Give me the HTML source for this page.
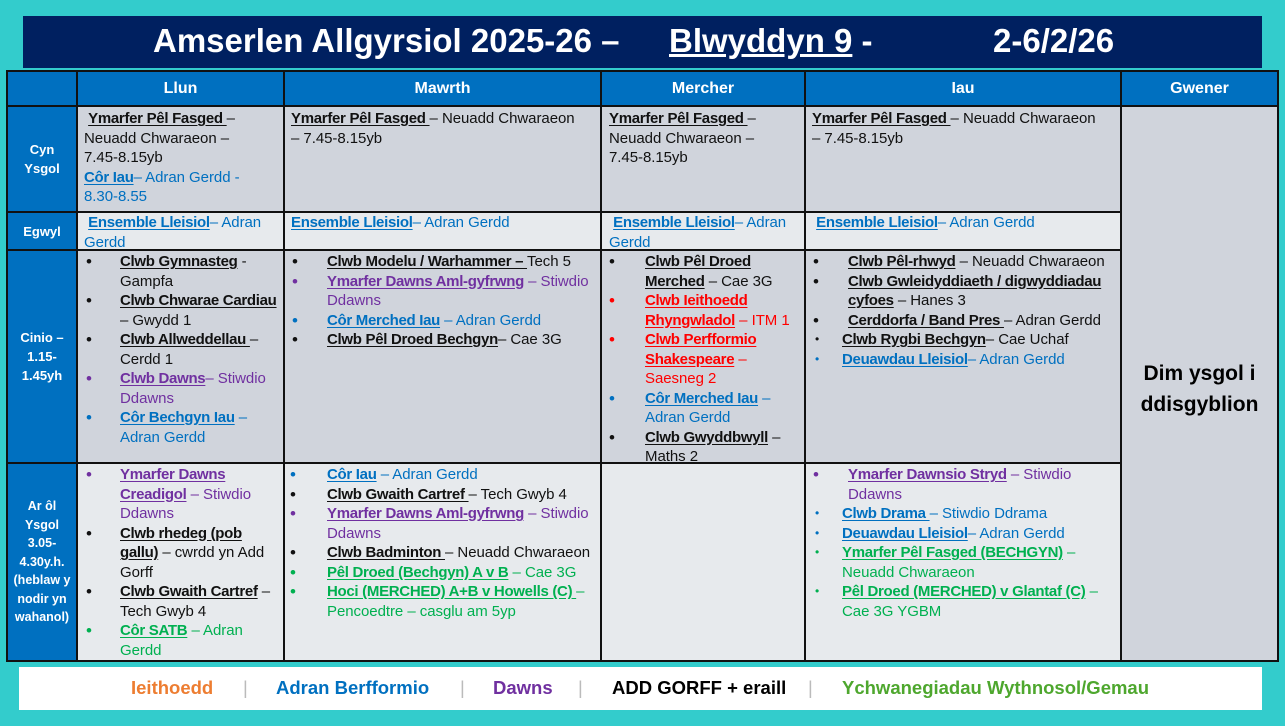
<!DOCTYPE html>
<html><head><meta charset="utf-8"><style>
*{margin:0;padding:0;box-sizing:border-box}
body{width:1285px;height:726px;background:#33CCCC;position:relative;overflow:hidden;font-family:"Liberation Sans",sans-serif}
.a{position:absolute}
.title{left:23px;top:16px;width:1239px;height:52px;background:#002060}
.title span{position:absolute;top:6px;color:#fff;font-weight:bold;font-size:33px;white-space:nowrap}
.bg{position:absolute;background:#111}
.c{position:absolute}
.hd{background:#0070C0;color:#fff;font-weight:bold;font-size:16px;display:flex;align-items:center;justify-content:center;text-align:center}
.lab{background:#0070C0;color:#fff;font-weight:bold;font-size:13px;display:flex;align-items:center;justify-content:center;text-align:center;line-height:19px}
.g1{background:#D0D4DC}.g2{background:#E7EAED}
.t{font-size:15px;line-height:19.5px;white-space:nowrap;letter-spacing:-0.05px;color:#111;position:absolute}
b{font-weight:bold;letter-spacing:-0.3px}
u{text-decoration:underline;text-underline-offset:2px}
.bl{color:#0070C0}.pu{color:#7030A0}.gr{color:#00B050}.rd{color:#FF0000}
.it{position:relative}
.dot{position:absolute;top:0;font-size:17px;line-height:19.5px}
.sm{font-size:12px}
.leg{left:19px;top:667px;width:1243px;height:43px;background:#fff}
.leg span{position:absolute;top:10px;font-weight:bold;font-size:18.5px;white-space:nowrap}
.sep{color:#bbb;font-weight:normal!important}
</style></head><body>
<div class="a title">
<span style="left:130px">Amserlen Allgyrsiol 2025-26 –</span>
<span style="left:646px"><u>Blwyddyn 9</u> -</span>
<span style="left:970px">2-6/2/26</span>
</div>

<div class="bg" style="left:6px;top:70px;width:1273px;height:592px"></div>
<div class="c hd" style="left:8px;top:72px;width:68px;height:33px"></div>
<div class="c hd" style="left:78px;top:72px;width:205px;height:33px">Llun</div>
<div class="c hd" style="left:285px;top:72px;width:315px;height:33px">Mawrth</div>
<div class="c hd" style="left:602px;top:72px;width:202px;height:33px">Mercher</div>
<div class="c hd" style="left:806px;top:72px;width:314px;height:33px">Iau</div>
<div class="c hd" style="left:1122px;top:72px;width:155px;height:33px">Gwener</div>
<div class="c lab" style="left:8px;top:107px;width:68px;height:104px">Cyn<br>Ysgol</div>
<div class="c lab" style="left:8px;top:213px;width:68px;height:36px">Egwyl</div>
<div class="c lab" style="left:8px;top:251px;width:68px;height:211px">Cinio –<br>1.15-<br>1.45yh</div>
<div class="c lab" style="left:8px;top:464px;width:68px;height:196px;font-size:12.5px;line-height:18.5px">Ar ôl<br>Ysgol<br>3.05-<br>4.30y.h.<br>(heblaw y<br>nodir yn<br>wahanol)</div>
<div class="c g1" style="left:78px;top:107px;width:205px;height:104px"></div>
<div class="c g1" style="left:285px;top:107px;width:315px;height:104px"></div>
<div class="c g1" style="left:602px;top:107px;width:202px;height:104px"></div>
<div class="c g1" style="left:806px;top:107px;width:314px;height:104px"></div>
<div class="c g2" style="left:78px;top:213px;width:205px;height:36px"></div>
<div class="c g2" style="left:285px;top:213px;width:315px;height:36px"></div>
<div class="c g2" style="left:602px;top:213px;width:202px;height:36px"></div>
<div class="c g2" style="left:806px;top:213px;width:314px;height:36px"></div>
<div class="c g1" style="left:78px;top:251px;width:205px;height:211px"></div>
<div class="c g1" style="left:285px;top:251px;width:315px;height:211px"></div>
<div class="c g1" style="left:602px;top:251px;width:202px;height:211px"></div>
<div class="c g1" style="left:806px;top:251px;width:314px;height:211px"></div>
<div class="c g2" style="left:78px;top:464px;width:205px;height:196px"></div>
<div class="c g2" style="left:285px;top:464px;width:315px;height:196px"></div>
<div class="c g2" style="left:602px;top:464px;width:202px;height:196px"></div>
<div class="c g2" style="left:806px;top:464px;width:314px;height:196px"></div>
<div class="c g1" style="left:1122px;top:107px;width:155px;height:553px;display:flex;align-items:center;justify-content:center;text-align:center;font-weight:bold;font-size:21px;line-height:31px;color:#000;padding-top:10px">Dim ysgol i<br>ddisgyblion</div>

<div class="t" style="left:84px;top:109px">&nbsp;<b><u>Ymarfer Pêl Fasged </u></b>–<br>Neuadd Chwaraeon –<br>7.45-8.15yb<br><span class="bl"><b><u>Côr Iau</u></b>– Adran Gerdd -<br>8.30-8.55</span></div>
<div class="t" style="left:291px;top:109px"><b><u>Ymarfer Pêl Fasged </u></b>– Neuadd Chwaraeon<br>– 7.45-8.15yb</div>
<div class="t" style="left:609px;top:109px"><b><u>Ymarfer Pêl Fasged </u></b>–<br>Neuadd Chwaraeon –<br>7.45-8.15yb</div>
<div class="t" style="left:812px;top:109px"><b><u>Ymarfer Pêl Fasged </u></b>– Neuadd Chwaraeon<br>– 7.45-8.15yb</div>
<div class="t bl" style="left:84px;top:213px">&nbsp;<b><u>Ensemble Lleisiol</u></b>– Adran<br>Gerdd</div>
<div class="t bl" style="left:291px;top:213px"><b><u>Ensemble Lleisiol</u></b>– Adran Gerdd</div>
<div class="t bl" style="left:609px;top:213px">&nbsp;<b><u>Ensemble Lleisiol</u></b>– Adran<br>Gerdd</div>
<div class="t bl" style="left:812px;top:213px">&nbsp;<b><u>Ensemble Lleisiol</u></b>– Adran Gerdd</div>

<div class="t" style="left:86px;top:252px;width:195px">
<div class="it" style="padding-left:34px"><span class="dot" style="left:0">•</span><b><u>Clwb Gymnasteg</u></b> -<br>Gampfa</div>
<div class="it" style="padding-left:34px"><span class="dot" style="left:0">•</span><b><u>Clwb Chwarae Cardiau</u></b><br>– Gwydd 1</div>
<div class="it" style="padding-left:34px"><span class="dot" style="left:0">•</span><b><u>Clwb Allweddellau </u></b>–<br>Cerdd 1</div>
<div class="it pu" style="padding-left:34px"><span class="dot" style="left:0">•</span><b><u>Clwb Dawns</u></b>– Stiwdio<br>Ddawns</div>
<div class="it bl" style="padding-left:34px"><span class="dot" style="left:0">•</span><b><u>Côr Bechgyn Iau</u></b> –<br>Adran Gerdd</div>
</div>
<div class="t" style="left:292px;top:252px">
<div class="it" style="padding-left:35px"><span class="dot" style="left:0">•</span><b><u>Clwb Modelu / Warhammer – </u></b>Tech 5</div>
<div class="it pu" style="padding-left:35px"><span class="dot" style="left:0">•</span><b><u>Ymarfer Dawns Aml-gyfrwng</u></b> – Stiwdio<br>Ddawns</div>
<div class="it bl" style="padding-left:35px"><span class="dot" style="left:0">•</span><b><u>Côr Merched Iau</u></b> – Adran Gerdd</div>
<div class="it" style="padding-left:35px"><span class="dot" style="left:0">•</span><b><u>Clwb Pêl Droed Bechgyn</u></b>– Cae 3G</div>
</div>
<div class="t" style="left:609px;top:252px">
<div class="it" style="padding-left:36px"><span class="dot" style="left:0">•</span><b><u>Clwb Pêl Droed</u></b><br><b><u>Merched</u></b> – Cae 3G</div>
<div class="it rd" style="padding-left:36px"><span class="dot" style="left:0">•</span><b><u>Clwb Ieithoedd</u></b><br><b><u>Rhyngwladol</u></b> – ITM 1</div>
<div class="it rd" style="padding-left:36px"><span class="dot" style="left:0">•</span><b><u>Clwb Perfformio</u></b><br><b><u>Shakespeare</u></b> –<br>Saesneg 2</div>
<div class="it bl" style="padding-left:36px"><span class="dot" style="left:0">•</span><b><u>Côr Merched Iau</u></b> –<br>Adran Gerdd</div>
<div class="it" style="padding-left:36px"><span class="dot" style="left:0">•</span><b><u>Clwb Gwyddbwyll</u></b> –<br>Maths 2</div>
</div>
<div class="t" style="left:813px;top:252px">
<div class="it" style="padding-left:35px"><span class="dot" style="left:0">•</span><b><u>Clwb Pêl-rhwyd</u></b> – Neuadd Chwaraeon</div>
<div class="it" style="padding-left:35px"><span class="dot" style="left:0">•</span><b><u>Clwb Gwleidyddiaeth / digwyddiadau</u></b><br><b><u>cyfoes</u></b> – Hanes 3</div>
<div class="it" style="padding-left:35px"><span class="dot" style="left:0">•</span><b><u>Cerddorfa / Band Pres </u></b>– Adran Gerdd</div>
<div class="it" style="padding-left:29px"><span class="dot sm" style="left:2px">•</span><b><u>Clwb Rygbi Bechgyn</u></b>– Cae Uchaf</div>
<div class="it bl" style="padding-left:29px"><span class="dot sm" style="left:2px">•</span><b><u>Deuawdau Lleisiol</u></b>– Adran Gerdd</div>
</div>

<div class="t" style="left:86px;top:465px">
<div class="it pu" style="padding-left:34px"><span class="dot" style="left:0">•</span><b><u>Ymarfer Dawns</u></b><br><b><u>Creadigol</u></b> – Stiwdio<br>Ddawns</div>
<div class="it" style="padding-left:34px"><span class="dot" style="left:0">•</span><b><u>Clwb rhedeg (pob</u></b><br><b><u>gallu)</u></b> – cwrdd yn Add<br>Gorff</div>
<div class="it" style="padding-left:34px"><span class="dot" style="left:0">•</span><b><u>Clwb Gwaith Cartref</u></b> –<br>Tech Gwyb 4</div>
<div class="it gr" style="padding-left:34px"><span class="dot" style="left:0">•</span><b><u>Côr SATB</u></b> – Adran<br>Gerdd</div>
</div>
<div class="t" style="left:290px;top:465px">
<div class="it bl" style="padding-left:37px"><span class="dot" style="left:0">•</span><b><u>Côr Iau</u></b> – Adran Gerdd</div>
<div class="it" style="padding-left:37px"><span class="dot" style="left:0">•</span><b><u>Clwb Gwaith Cartref </u></b>– Tech Gwyb 4</div>
<div class="it pu" style="padding-left:37px"><span class="dot" style="left:0">•</span><b><u>Ymarfer Dawns Aml-gyfrwng</u></b> – Stiwdio<br>Ddawns</div>
<div class="it" style="padding-left:37px"><span class="dot" style="left:0">•</span><b><u>Clwb Badminton </u></b>– Neuadd Chwaraeon</div>
<div class="it gr" style="padding-left:37px"><span class="dot" style="left:0">•</span><b><u>Pêl Droed (Bechgyn) A v B</u></b> – Cae 3G</div>
<div class="it gr" style="padding-left:37px"><span class="dot" style="left:0">•</span><b><u>Hoci (MERCHED) A+B v Howells (C) </u></b>–<br>Pencoedtre – casglu am 5yp</div>
</div>
<div class="t" style="left:813px;top:465px">
<div class="it pu" style="padding-left:35px"><span class="dot" style="left:0">•</span><b><u>Ymarfer Dawnsio Stryd</u></b> – Stiwdio<br>Ddawns</div>
<div class="it bl" style="padding-left:29px"><span class="dot sm" style="left:2px">•</span><b><u>Clwb Drama </u></b>– Stiwdio Ddrama</div>
<div class="it bl" style="padding-left:29px"><span class="dot sm" style="left:2px">•</span><b><u>Deuawdau Lleisiol</u></b>– Adran Gerdd</div>
<div class="it gr" style="padding-left:29px"><span class="dot sm" style="left:2px">•</span><b><u>Ymarfer Pêl Fasged (BECHGYN)</u></b> –<br>Neuadd Chwaraeon</div>
<div class="it gr" style="padding-left:29px"><span class="dot sm" style="left:2px">•</span><b><u>Pêl Droed (MERCHED) v Glantaf (C)</u></b> –<br>Cae 3G YGBM</div>
</div>

<div class="a leg">
<span style="left:112px;color:#ED7D31">Ieithoedd</span>
<span class="sep" style="left:224px">|</span>
<span style="left:257px;color:#0070C0">Adran Berfformio</span>
<span class="sep" style="left:441px">|</span>
<span style="left:474px;color:#7030A0">Dawns</span>
<span class="sep" style="left:559px">|</span>
<span style="left:593px;color:#000">ADD GORFF + eraill</span>
<span class="sep" style="left:789px">|</span>
<span style="left:823px;color:#4EA72E">Ychwanegiadau Wythnosol/Gemau</span>
</div>
</body></html>
